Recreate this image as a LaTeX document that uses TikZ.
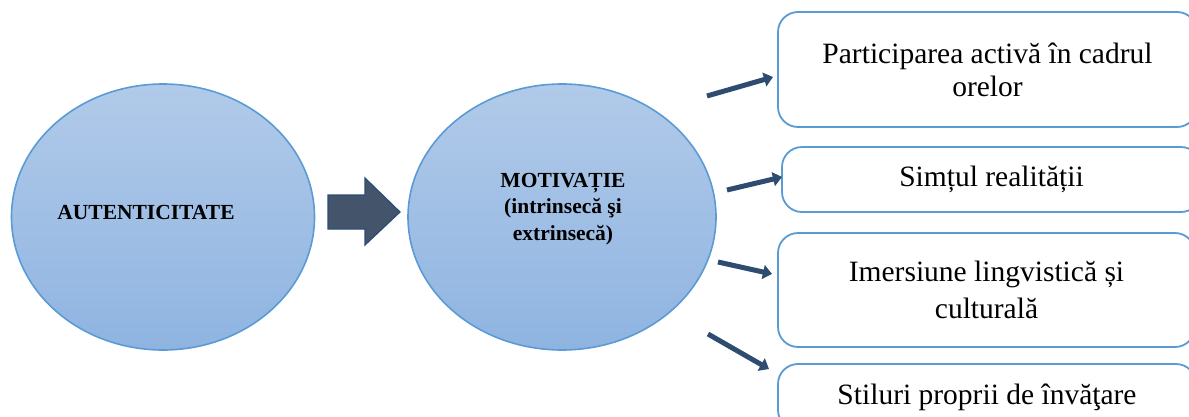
\documentclass[tikz,border=0pt]{standalone}
\usepackage{fontspec}
\setmainfont{Liberation Serif}
\usetikzlibrary{shapes.geometric,arrows.meta}
\definecolor{circfill1}{HTML}{B1CAE9}
\definecolor{circfill2}{HTML}{8FB4E1}
\definecolor{circline}{HTML}{5B9BD5}
\definecolor{boxline}{HTML}{5B9BD5}
\definecolor{bigarrowfill}{HTML}{44546A}
\definecolor{bigarrowline}{HTML}{2A4D78}
\definecolor{smallarrow}{HTML}{2E4B70}
\tikzset{
  bubble/.style={ellipse, draw=circline, line width=1.6pt, top color=circfill1, bottom color=circfill2, inner sep=0pt},
  bubbletext/.style={font=\bfseries\fontsize{21.5}{26.5}\selectfont, align=center, inner sep=0pt},
  itembox/.style={rectangle, rounded corners=20pt, draw=boxline, line width=1.8pt, fill=white, inner sep=0pt, font=\fontsize{29.5}{35}\selectfont, align=center},
  thinarrow/.style={draw=smallarrow, line width=5pt, -{Triangle[length=9pt,width=14pt]}}
}
\begin{document}
\begin{tikzpicture}[x=1pt,y=-1pt]
\useasboundingbox (0,0) rectangle (1189,416);
\clip (0,0) rectangle (1189,416);
\node[bubble, minimum width=303pt, minimum height=266pt] (aut) at (163,217) {};
\node[bubbletext] (autt) at (146,212) {AUTENTICITATE};
\node[bubble, minimum width=308pt, minimum height=266pt] (mot) at (562,217) {};
\node[bubbletext] (mott) at (563,209) {MOTIVAȚIE\\(intrinsecă şi\\extrinsecă)};
% big arrow
\coordinate (ba1) at (328,195);
\coordinate (ba2) at (365,195);
\coordinate (ba3) at (365,178);
\coordinate (ba4) at (400,212);
\coordinate (ba5) at (365,245);
\coordinate (ba6) at (365,229);
\coordinate (ba7) at (328,229);
\fill[bigarrowfill, draw=bigarrowline, line width=1.2pt, line join=miter] (ba1) -- (ba2) -- (ba3) -- (ba4) -- (ba5) -- (ba6) -- (ba7) -- cycle;
% boxes
\node[itembox, minimum width=419pt, minimum height=115pt] (b1) at (987.5,69.5) {Participarea activă în cadrul\\[-2pt]orelor};
\node[itembox, minimum width=419pt, minimum height=65pt] (b2) at (991.5,179.5) {Simțul realității};
\node[itembox, minimum width=417pt, minimum height=114pt] (b3) at (986.5,290) {Imersiune lingvistică și\\[2pt]culturală};
\node[itembox, minimum width=418pt, minimum height=66pt] (b4) at (987,397) {Stiluri proprii de învăţare};
% small arrows
\coordinate (s1a) at (707,96);
\coordinate (s1b) at (773,77);
\coordinate (s2a) at (727,190);
\coordinate (s2b) at (782,177);
\coordinate (s3a) at (718,262);
\coordinate (s3b) at (772,274);
\coordinate (s4a) at (708,334);
\coordinate (s4b) at (769,369);
\draw[thinarrow] (s1a) -- (s1b);
\draw[thinarrow] (s2a) -- (s2b);
\draw[thinarrow] (s3a) -- (s3b);
\draw[thinarrow] (s4a) -- (s4b);
\end{tikzpicture}
\end{document}
